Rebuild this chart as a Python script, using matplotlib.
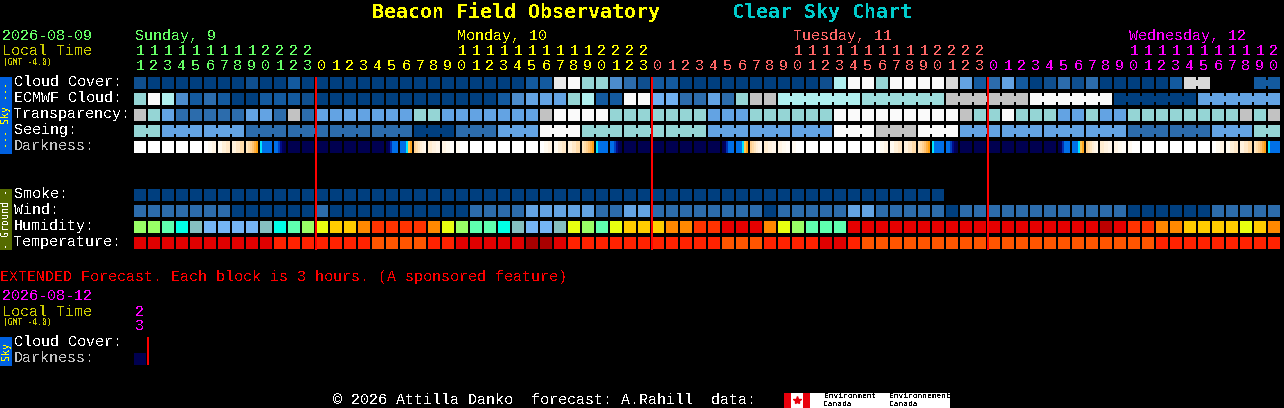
import matplotlib
matplotlib.use("Agg")
import matplotlib.pyplot as plt
from matplotlib.patches import Rectangle

plt.rcParams["font.family"] = ["Liberation Mono", "DejaVu Sans Mono"]
plt.rcParams["text.antialiased"] = False

# one code per hour block, '.' is no forecast
cloud_cover = "baaaaaaaba" "acaaaaaaaa" "aaaaaaaacc" "mnhhedbcca" "aaaaaaaaab" "jnnhnnnnlf" "cdfcabdbda" "aaaacll..." "cc"
ecmwf_cloud = "hnjecdcaac" "ccbaaaaaaa" "aaaaaaceff" "fhjccnnggd" "dfdhkkjjjj" "jjiiiiiikk" "kkkknnnnnn" "aaaaaaffff" "ff"
transparency = "khfdddddff" "dkdfffffff" "hhfffffffk" "nnnnhhhhhh" "hfffhhhhhh" "nnnnnnnnnk" "hhnhhhffhf" "fhhhhhhhhk" "hk"
seeing = "hhffffffdd" "dddddddddd" "aaadddfffn" "nnhhhhhhhh" "hfffffffff" "nnnkkknnnf" "ffffffffff" "fddddddfff" "hh"
darkness = "WWWWW12345" "6NNNNNNN78" "9abcWWWWW1" "23456NNNNN" "NN789abcWW" "WWW123456N" "NNNNNN789a" "bcWWWWW123" "45"
smoke = "aaaaaaaaaa" "aaaaaaaaaa" "aaaaaaaaaa" "aaaaaaaaaa" "aaaaaaaaaa" "aaaaaaaa.." ".........." ".........." ".."
wind = "dddddddaaa" "aaadaaaaaa" "aaaaddddff" "fffddffddd" "dddddadddd" "dffdddddad" "dddddddddd" "daaaaaaddd" "dd"
humidity = "ppqrstttts" "rqpuvvwxxx" "xwupqqrstt" "supquvvvww" "xxyyywupqq" "qyyyyyyyyy" "yyyyyyyyyz" "yxxwwvvvvu" "vw"
temperature = "BBBBBBBBBB" "CCCCCCCDDD" "DCCBBBBBAA" "BCCCCCCCCC" "CCDDDCCCCB" "BCDDDDDDDD" "DDDDDDDDDD" "DDDCCCCCCC" "CC"

hours = [11, 12, 13, 14, 15, 16, 17, 18, 19, 20, 21, 22, 23,
         0, 1, 2, 3, 4, 5, 6, 7, 8, 9, 10, 11, 12, 13, 14, 15, 16, 17, 18, 19, 20, 21, 22, 23,
         0, 1, 2, 3, 4, 5, 6, 7, 8, 9, 10, 11, 12, 13, 14, 15, 16, 17, 18, 19, 20, 21, 22, 23,
         0, 1, 2, 3, 4, 5, 6, 7, 8, 9, 10, 11, 12, 13, 14, 15, 16, 17, 18, 19, 20]
day_names = ["Sunday, 9", "Monday, 10", "Tuesday, 11", "Wednesday, 12"]
day_label_cols = [0, 23, 47, 71]
day_first_cols = [0, 13, 37, 61]
day_colors = ["#66ff66", "#ffff00", "#ff6666", "#ff00ff"]
midnights = [13, 37, 61]

# blocks that are joined to their neighbour (multi-hour model steps)
cloud_spans = [(75, 76), (80, 81)]
ecmwf_spans = [(46, 51), (52, 57), (58, 63), (64, 69), (70, 75), (76, 81)]
seeing_spans = [(0, 1), (2, 4), (5, 7), (8, 10), (11, 13), (14, 16), (17, 19), (20, 22), (23, 25),
                (26, 28), (29, 31), (32, 34), (35, 37), (38, 40), (41, 43), (44, 46), (47, 49),
                (50, 52), (53, 55), (56, 58), (59, 61), (62, 64), (65, 67), (68, 70), (71, 73),
                (74, 76), (77, 79), (80, 81)]

palette = {
    "a": "#003f7f", "b": "#0f4f8f", "c": "#135a9f", "d": "#2c6cac", "e": "#4c8ccc",
    "f": "#63a3e3", "g": "#70b0f0", "h": "#95d5d5", "i": "#9cdcdc", "j": "#b0efef",
    "k": "#c2c2c2", "l": "#d9d9d9", "m": "#e9e9e9", "n": "#fafafa",
    "p": "#99ff66", "q": "#5fffaf", "r": "#00ffe6", "s": "#85bfc0", "t": "#75b5f5",
    "u": "#e8ff10", "v": "#ffcc00", "w": "#ff8800", "x": "#ff3300", "y": "#e60000", "z": "#bb0000",
    "A": "#a80000", "B": "#e00000", "C": "#ff2200", "D": "#ff5500",
}
# darkness blocks are graded left to right
dark_strips = {
    "W": ["#ffffff"],
    "N": ["#000050"],
    "1": ["#ffffff", "#fffaf0", "#fff4e4"],
    "2": ["#fffaf0", "#fff0d8", "#ffe8c8"],
    "3": ["#fff2de", "#ffe8c8", "#ffdcaa"],
    "4": ["#ffe6c0", "#ffdca8", "#ffd090", "#ffc270", "#ffb040", "#ffa010"],
    "5": ["#00e6ff", "#0070e8", "#0070e8", "#0070e8", "#0070e8", "#0070e8"],
    "6": ["#0070e8", "#0070e8", "#0040c0", "#000c88", "#00005c", "#000050"],
    "7": ["#000050", "#000060", "#0030b0", "#0070e8", "#0070e8", "#0070e8"],
    "8": ["#0070e8", "#0070e8", "#0070e8", "#00e6ff", "#ffc850", "#ffa51e"],
    "9": ["#ffd090", "#ffdca8", "#ffe6c0", "#ffefd8", "#fff4e4", "#fff8ee"],
    "a": ["#ffecd0", "#fff2e0", "#fff6ea"],
    "b": ["#fff4e4", "#fffaf0", "#fffcf8"],
    "c": ["#fffaf2", "#ffffff", "#ffffff"],
}

X0, PITCH, W, H = 134, 14, 12, 12
ROW_Y = {"cloud": 77, "ecmwf": 93, "transp": 109, "seeing": 125, "dark": 141,
         "smoke": 189, "wind": 205, "humid": 221, "temp": 237}
PX = 72 / 100  # points per pixel at dpi 100


def box(ax, x, y, w, h, color, z=2):
    ax.add_patch(Rectangle((x, y), w, h, facecolor=color, edgecolor="none", antialiased=False, zorder=z))


def put(ax, x, y, s, color, size, **kw):
    ax.text(x, y + 1, s, color=color, fontsize=size * PX, va="center", ha=kw.pop("ha", "left"), **kw)


def draw_row(ax, codes, y, spans=()):
    for i, code in enumerate(codes):
        if code != ".":
            box(ax, X0 + PITCH * i, y, W, H, palette[code])
    for start, end in spans:
        for i in range(start, end):
            if codes[i] != ".":
                box(ax, X0 + PITCH * i + W, y + 3, PITCH - W, H - 6, palette[codes[i]])


def draw_darkness(ax, codes, y):
    for i, code in enumerate(codes):
        strip = dark_strips[code]
        w = W / len(strip)
        for j, c in enumerate(strip):
            box(ax, X0 + PITCH * i + j * w, y, w, H, c)


fig = plt.figure(figsize=(12.84, 4.08), dpi=100, facecolor="black")
ax = fig.add_axes([0, 0, 1, 1])
ax.set_xlim(0, 1284)
ax.set_ylim(408, 0)
ax.axis("off")

put(ax, 372, 11, "Beacon Field Observatory", "#ffff00", 20, fontweight="bold", family="DejaVu Sans Mono")
put(ax, 732, 11, "Clear Sky Chart", "#00cccc", 20, fontweight="bold", family="DejaVu Sans Mono")

put(ax, 2, 35, "2026-08-09", "#66ff66", 15)
put(ax, 2, 50, "Local Time", "#cccc00", 15)
put(ax, 3, 61, "(GMT -4.0)", "#cccc00", 8, family="DejaVu Sans Mono")

for name, col, color in zip(day_names, day_label_cols, day_colors):
    put(ax, X0 + PITCH * col + 1, 35, name, color, 15)

for i, hour in enumerate(hours):
    day = sum(i >= first for first in day_first_cols) - 1
    cx = X0 + PITCH * i + 6
    if hour >= 10:
        put(ax, cx, 50, str(hour // 10), day_colors[day], 15, ha="center")
    put(ax, cx, 65, str(hour % 10), day_colors[day], 15, ha="center")

labels = [("Cloud Cover:", 81, "white"), ("ECMWF Cloud:", 97, "white"), ("Transparency:", 113, "white"),
          ("Seeing:", 129, "white"), ("Darkness:", 145, "#c0c0c0"), ("Smoke:", 193, "white"),
          ("Wind:", 209, "white"), ("Humidity:", 225, "white"), ("Temperature:", 241, "white")]
for text, y, color in labels:
    put(ax, 14, y, text, color, 15)

draw_row(ax, cloud_cover, ROW_Y["cloud"], cloud_spans)
draw_row(ax, ecmwf_cloud, ROW_Y["ecmwf"], ecmwf_spans)
draw_row(ax, transparency, ROW_Y["transp"])
draw_row(ax, seeing, ROW_Y["seeing"], seeing_spans)
draw_darkness(ax, darkness, ROW_Y["dark"])
draw_row(ax, smoke, ROW_Y["smoke"])
draw_row(ax, wind, ROW_Y["wind"])
draw_row(ax, humidity, ROW_Y["humid"])
draw_row(ax, temperature, ROW_Y["temp"])

for col in midnights:
    box(ax, X0 + PITCH * col - 1, 77, 2, 173, "#ff0000", z=3)

# side tabs
box(ax, 0, 77, 12, 77, "#0060e0")
put(ax, 6, 114, "--- Sky ---", "#ffff00", 10, ha="center", rotation=90, rotation_mode="anchor", family="DejaVu Sans Mono")
box(ax, 0, 189, 12, 61, "#556b00")
put(ax, 6, 218, "- Ground -", "white", 10, ha="center", rotation=90, rotation_mode="anchor", family="DejaVu Sans Mono")

# extended forecast block
put(ax, 0, 276, "EXTENDED Forecast. Each block is 3 hours. (A sponsored feature)", "#ff0000", 15)
put(ax, 2, 295, "2026-08-12", "#ff00ff", 15)
put(ax, 2, 311, "Local Time", "#cccc00", 15)
put(ax, 3, 321, "(GMT -4.0)", "#cccc00", 8, family="DejaVu Sans Mono")
put(ax, 140, 311, "2", "#ff00ff", 15, ha="center")
put(ax, 140, 325, "3", "#ff00ff", 15, ha="center")
put(ax, 14, 341, "Cloud Cover:", "white", 15)
put(ax, 14, 357, "Darkness:", "#c0c0c0", 15)
box(ax, 134, 353, 12, 12, "#000050")
box(ax, 147, 337, 2, 28, "#ff0000", z=3)
box(ax, 0, 337, 12, 29, "#0060e0")
put(ax, 6, 350, "Sky", "#ffff00", 10, ha="center", rotation=90, rotation_mode="anchor", family="DejaVu Sans Mono")

# footer
put(ax, 333, 399, "\u00a9 2026 Attilla Danko  forecast: A.Rahill  data:", "white", 15)
box(ax, 784, 393, 166, 15, "white")
box(ax, 784, 393, 7, 15, "#e8000c", z=3)
box(ax, 803, 393, 7, 15, "#e8000c", z=3)
ax.plot([797], [400], marker="*", color="#e8000c", markersize=6, zorder=3)
for x, top, bottom in [(824, "Environment", "Canada"), (889, "Environnement", "Canada")]:
    put(ax, x, 396, top, "black", 8, zorder=4)
    put(ax, x, 403, bottom, "black", 8, zorder=4)

fig.savefig("out.png", dpi=100, facecolor="black")
plt.close(fig)
